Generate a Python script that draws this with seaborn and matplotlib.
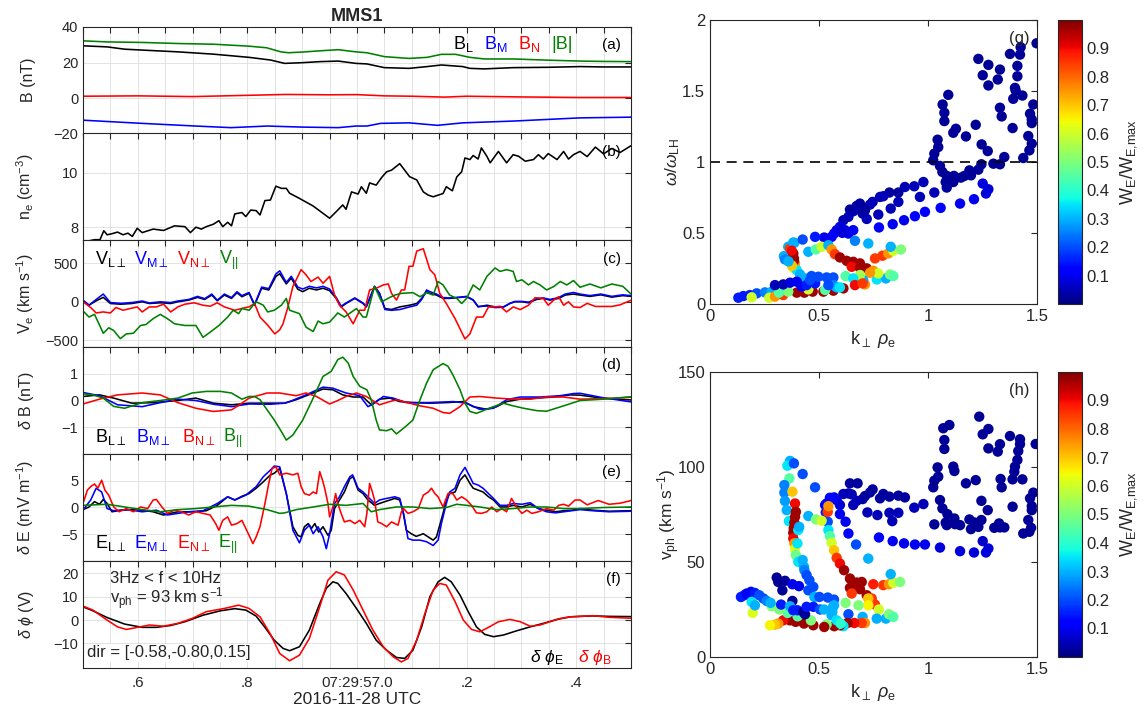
import numpy as np
import matplotlib
matplotlib.use("Agg")
import matplotlib.pyplot as plt
import matplotlib.ticker as mticker
from matplotlib.cm import ScalarMappable
from matplotlib.colors import Normalize
import seaborn as sns

# ---------------------------------------------------------------- data
# time in seconds after 07:29:56 UTC

# (a) B in LMN (nT)
t_bt = [0.5, 0.544, 0.608, 0.673, 0.738, 0.803, 0.835, 0.861, 0.875, 0.901, 0.933, 0.966, 0.998, 1.018,
        1.05, 1.095, 1.128, 1.154, 1.18, 1.206, 1.232, 1.285, 1.35, 1.407, 1.45, 1.5]
b_tot = [32.2, 31.6, 31.3, 30.7, 30.3, 29.2, 28.3, 26.0, 25.5, 25.9, 26.6, 27.2, 26.0, 25.5,
         23.3, 22.3, 22.9, 24.6, 24.6, 22.9, 22.0, 22.0, 21.3, 20.8, 20.6, 20.5]
t_bl = [0.5, 0.544, 0.576, 0.608, 0.673, 0.738, 0.803, 0.842, 0.868, 0.9, 0.933, 0.966, 0.998, 1.018,
        1.05, 1.095, 1.128, 1.154, 1.193, 1.206, 1.232, 1.285, 1.35, 1.407, 1.45, 1.5]
b_l = [29.4, 28.8, 27.5, 27.0, 26.0, 24.7, 22.9, 21.4, 19.5, 19.9, 20.5, 20.8, 19.5, 19.2,
       17.1, 16.7, 17.7, 18.6, 17.7, 16.7, 16.4, 17.1, 17.3, 17.7, 17.5, 17.5]
t_bn = [0.5, 0.6, 0.7, 0.8, 0.87, 0.95, 1.0, 1.05, 1.1, 1.16, 1.2, 1.3, 1.4, 1.5]
b_n = [1.0, 1.2, 0.8, 1.5, 2.0, 1.8, 1.9, 1.2, 1.0, 0.5, 1.0, 0.6, 0.3, 0.3]
t_bm = [0.5, 0.608, 0.706, 0.77, 0.836, 0.901, 0.966, 0.998, 1.018, 1.043, 1.095, 1.147, 1.193, 1.285,
        1.407, 1.5]
b_m = [-12.5, -14.3, -15.8, -16.7, -15.8, -16.4, -16.7, -15.8, -15.8, -14.3, -14.0, -15.4, -14.0, -13.0,
       -11.2, -10.8]

# (b) electron density (cm^-3)
t_ne = [0.5, 0.521, 0.531, 0.538, 0.544, 0.553, 0.563, 0.573, 0.582, 0.590, 0.599, 0.608, 0.628, 0.647,
        0.667, 0.686, 0.696, 0.706, 0.716, 0.725, 0.738, 0.748, 0.755, 0.764, 0.771, 0.777, 0.790, 0.797,
        0.806, 0.816, 0.823, 0.832, 0.842, 0.852, 0.862, 0.871, 0.877, 0.895, 0.92, 0.938, 0.95, 0.962,
        0.974, 0.98, 0.99, 1.002, 1.008, 1.017, 1.023, 1.035, 1.045, 1.054, 1.063, 1.078, 1.087, 1.096,
        1.109, 1.121, 1.13, 1.139, 1.148, 1.157, 1.163, 1.174, 1.182, 1.191, 1.197, 1.206, 1.212, 1.221,
        1.227, 1.237, 1.243, 1.258, 1.273, 1.285, 1.295, 1.307, 1.322, 1.331, 1.34, 1.349, 1.365, 1.377,
        1.386, 1.395, 1.407, 1.42, 1.435, 1.45, 1.465, 1.48, 1.5]
n_e = [7.45, 7.54, 7.54, 7.87, 7.72, 7.76, 7.82, 7.72, 7.78, 7.66, 7.96, 7.80, 7.93, 7.88,
       8.05, 8.02, 7.80, 8.0, 7.93, 8.02, 8.11, 8.24, 8.02, 8.18, 8.05, 8.49, 8.54, 8.39,
       8.63, 8.61, 8.45, 8.98, 9.0, 9.51, 9.43, 9.43, 9.25, 9.06, 8.78, 8.51, 8.33, 8.57,
       8.82, 8.66, 9.30, 9.22, 9.49, 9.25, 9.63, 9.55, 9.83, 10.04, 10.1, 10.34, 10.1, 9.86,
       9.74, 9.30, 9.18, 9.12, 9.18, 9.24, 9.49, 9.34, 9.85, 10.04, 10.55, 10.49, 10.64, 10.51,
       10.92, 10.61, 10.37, 10.79, 10.37, 10.67, 10.61, 10.43, 10.49, 10.67, 10.51, 10.71, 10.49, 10.79,
       10.51, 10.67, 10.79, 10.6, 10.95, 10.7, 10.9, 10.75, 11.0]

# (c) electron velocity (km/s)
t_vpar = [0.5, 0.511, 0.521, 0.537, 0.547, 0.556, 0.568, 0.579, 0.592, 0.605, 0.615, 0.628, 0.641, 0.654,
          0.667, 0.686, 0.706, 0.719, 0.732, 0.748, 0.764, 0.774, 0.784, 0.790, 0.803, 0.816, 0.829, 0.837,
          0.849, 0.862, 0.871, 0.877, 0.895, 0.907, 0.92, 0.929, 0.938, 0.95, 0.965, 0.977, 0.999, 1.011,
          1.017, 1.032, 1.045, 1.06, 1.069, 1.081, 1.102, 1.115, 1.127, 1.139, 1.148, 1.157, 1.169, 1.182,
          1.191, 1.2, 1.212, 1.224, 1.237, 1.252, 1.261, 1.273, 1.285, 1.291, 1.301, 1.313, 1.322, 1.334,
          1.346, 1.359, 1.371, 1.383, 1.395, 1.407, 1.425, 1.445, 1.465, 1.485, 1.5]
v_par = [-118, -197, -162, -406, -336, -371, -476, -415, -406, -306, -293, -218, -162, -218,
         -284, -306, -306, -459, -393, -306, -197, -109, -153, -87, -109, 0, -44, -131,
         -109, -44, 44, -109, -153, -328, -384, -249, -284, -262, -144, -197, -87, -197,
         -197, 197, 0, 57, 87, 109, 118, 66, 118, 87, 262, 218, 87, 44,
         -22, 44, 218, 153, 328, 437, 393, 415, 393, 262, 284, 218, 262, 218,
         153, 197, 262, 218, 275, 188, 230, 180, 230, 200, 100]
t_vlm = [0.5, 0.511, 0.524, 0.537, 0.55, 0.569, 0.589, 0.608, 0.621, 0.641, 0.66, 0.673, 0.693, 0.709,
         0.722, 0.735, 0.745, 0.758, 0.771, 0.781, 0.79, 0.803, 0.813, 0.826, 0.839, 0.852, 0.859, 0.871,
         0.88, 0.892, 0.901, 0.913, 0.926, 0.938, 0.95, 0.962, 0.971, 0.98, 0.996, 1.011, 1.017, 1.032,
         1.041, 1.051, 1.063, 1.078, 1.096, 1.109, 1.118, 1.127, 1.133, 1.145, 1.157, 1.169, 1.188, 1.2,
         1.212, 1.221, 1.237, 1.252, 1.267, 1.279, 1.288, 1.301, 1.313, 1.328, 1.34, 1.352, 1.368, 1.38,
         1.395, 1.407, 1.425, 1.445, 1.465, 1.485, 1.5]
v_l = [13, -44, 13, 57, -22, -31, -22, 0, -22, -13, -22, 0, 22, 57,
       31, 87, 13, 87, 44, 118, 66, 109, -44, 175, 153, 328, 362, 231,
       306, 162, 131, 175, 153, 175, 144, 44, -66, -22, 44, -22, -66, 197,
       109, -87, -100, -66, -44, -22, 44, 131, 109, 87, 44, 44, 57, 66,
       22, -66, -44, -66, -66, -22, 0, 0, -13, 31, 44, 22, 44, 87,
       100, 87, 70, 90, 60, 80, 70]
v_m = [22, -44, 30, 100, -10, -20, -10, 10, -15, 0, -10, 10, 30, 70,
       40, 100, 20, 100, 55, 130, 80, 120, -35, 190, 170, 360, 400, 250,
       330, 190, 165, 200, 180, 200, 165, 57, -57, -15, 50, -15, -60, 200,
       110, -100, -110, -100, -66, -44, 30, 153, 131, 100, 55, 50, 60, 70,
       25, -60, -55, -75, -70, -20, 5, 5, -5, 40, 50, 30, 55, 100,
       120, 100, 80, 100, 70, 90, 80]
t_vn = [0.5, 0.514, 0.524, 0.537, 0.55, 0.56, 0.573, 0.586, 0.599, 0.608, 0.621, 0.634, 0.647, 0.66,
        0.673, 0.686, 0.703, 0.719, 0.732, 0.745, 0.758, 0.777, 0.797, 0.803, 0.813, 0.823, 0.836, 0.85,
        0.859, 0.865, 0.874, 0.883, 0.898, 0.907, 0.916, 0.929, 0.938, 0.95, 0.959, 0.968, 0.98, 0.993,
        1.005, 1.014, 1.023, 1.035, 1.048, 1.057, 1.063, 1.072, 1.081, 1.087, 1.095, 1.102, 1.109, 1.121,
        1.133, 1.142, 1.151, 1.163, 1.179, 1.188, 1.197, 1.206, 1.218, 1.23, 1.24, 1.252, 1.261, 1.273,
        1.285, 1.298, 1.313, 1.325, 1.34, 1.349, 1.359, 1.368, 1.377, 1.386, 1.395, 1.407, 1.42, 1.435,
        1.45, 1.465, 1.48, 1.5]
v_n = [0, -74, -144, -131, -144, -74, -109, -87, -66, -131, -66, -66, -31, -131,
       -66, -31, -13, -44, -57, -13, -66, -109, -74, -66, -22, -197, -293, -415,
       -362, -284, -66, 197, 415, 349, 262, 319, 240, 328, 87, -44, -131, -284,
       -109, -109, 153, 175, 218, 231, 109, 22, 153, 153, 459, 459, 655, 686,
       415, 349, 109, -22, -218, -349, -480, -415, -197, -197, -66, -66, -57, -131,
       -66, -100, -44, 52, 44, -44, 22, 66, -44, 0, -66, -74, -20, -60,
       -60, -60, -40, 20]

# (d) delta B (nT)
t_dbpar = [0.5, 0.518, 0.537, 0.556, 0.576, 0.608, 0.641, 0.673, 0.699, 0.725, 0.751, 0.771, 0.79, 0.803,
           0.813, 0.823, 0.836, 0.849, 0.862, 0.871, 0.883, 0.901, 0.92, 0.938, 0.953, 0.965, 0.974, 0.984,
           0.993, 1.005, 1.018, 1.026, 1.035, 1.041, 1.054, 1.063, 1.072, 1.081, 1.09, 1.102, 1.115, 1.127,
           1.139, 1.157, 1.166, 1.175, 1.188, 1.197, 1.206, 1.218, 1.234, 1.249, 1.267, 1.285, 1.304, 1.328,
           1.346, 1.377, 1.407, 1.45, 1.5]
db_par = [0.25, 0.21, 0.09, -0.22, -0.29, -0.08, 0, 0.09, 0.28, 0.34, 0.34, 0.28, 0.05, 0.15,
          0.15, 0.03, -0.35, -0.73, -1.16, -1.48, -1.29, -0.73, 0.09, 0.9, 1.09, 1.53, 1.62, 1.4,
          0.9, 0.53, 0.4, 0.03, -0.73, -1.1, -1.13, -1.06, -1.25, -1.1, -0.95, -0.73, 0.03, 0.65,
          1.15, 1.38, 1.28, 0.96, 0.4, -0.1, -0.41, -0.48, -0.35, -0.23, -0.1, -0.2, -0.29, -0.38,
          -0.4, -0.2, 0.0, 0.05, 0.14]
t_dbl = [0.5, 0.53, 0.556, 0.589, 0.628, 0.673, 0.706, 0.738, 0.771, 0.803, 0.842, 0.868, 0.889, 0.92,
         0.938, 0.956, 0.974, 0.993, 1.011, 1.026, 1.041, 1.06, 1.078, 1.102, 1.133, 1.163, 1.194, 1.212,
         1.237, 1.255, 1.273, 1.298, 1.328, 1.359, 1.389, 1.407, 1.45, 1.5]
db_l = [0.15, 0.21, 0.09, -0.1, -0.08, 0, 0.09, -0.1, -0.16, -0.1, -0.1, -0.1, 0.03, 0.28,
        0.43, 0.4, 0.21, 0.13, 0.13, -0.16, 0.05, 0.09, -0.04, -0.08, -0.1, -0.08, -0.04, -0.23,
        -0.33, -0.23, -0.04, 0.05, 0.09, 0.13, 0.21, 0.2, 0.08, 0.02]
t_dbm = [0.5, 0.53, 0.563, 0.608, 0.641, 0.673, 0.706, 0.738, 0.771, 0.803, 0.842, 0.868, 0.877, 0.907,
         0.938, 0.956, 0.98, 1.005, 1.02, 1.032, 1.048, 1.066, 1.09, 1.133, 1.176, 1.2, 1.224, 1.249,
         1.273, 1.298, 1.334, 1.371, 1.395, 1.407, 1.45, 1.5]
db_m = [0.3, 0.18, -0.16, -0.23, -0.08, 0.05, 0, -0.14, -0.23, -0.13, -0.14, -0.1, -0.04, 0.21,
        0.5, 0.46, 0.28, 0.18, -0.23, -0.1, 0.15, 0.09, -0.08, -0.08, -0.04, -0.1, -0.33, -0.29,
        0.03, 0.13, 0.13, 0.18, 0.26, 0.27, 0.1, -0.05]
t_dbn = [0.5, 0.53, 0.563, 0.608, 0.641, 0.673, 0.706, 0.738, 0.771, 0.79, 0.803, 0.836, 0.859, 0.889,
         0.907, 0.926, 0.95, 0.965, 0.98, 0.999, 1.017, 1.041, 1.06, 1.072, 1.096, 1.115, 1.139, 1.157,
         1.169, 1.188, 1.206, 1.224, 1.255, 1.285, 1.316, 1.346, 1.377, 1.407, 1.45, 1.5]
db_n = [-0.13, 0.05, 0.21, 0.28, 0.21, -0.08, -0.29, -0.41, -0.35, -0.1, 0.09, 0.28, 0.28, 0.18,
        0.28, 0.15, -0.13, 0, 0.15, 0.28, 0.15, -0.16, -0.04, 0.03, -0.1, -0.2, -0.29, -0.45,
        -0.48, -0.23, 0.13, 0.15, 0.09, 0.05, 0.05, 0.13, 0.13, 0.05, 0.07, 0.12]

# (e) delta E (mV/m)
t_depar = [0.5, 0.544, 0.576, 0.608, 0.641, 0.673, 0.706, 0.738, 0.771, 0.803, 0.836, 0.859, 0.868, 0.889,
           0.92, 0.95, 0.98, 1.011, 1.026, 1.041, 1.072, 1.102, 1.133, 1.163, 1.182, 1.2, 1.224, 1.255,
           1.285, 1.316, 1.346, 1.377, 1.407, 1.45, 1.5]
de_par = [0.4, 0.6, 0.1, -0.4, -0.8, -0.4, -0.2, 0.1, 0.4, 0.25, -0.4, -1.1, -1.0, -0.4,
          0.1, 0.6, 0.4, 0.75, -0.8, -0.4, 0.1, 0.1, -0.2, 0, 0.6, 0.4, 0.1, -0.4,
          -0.2, 0.1, 0.1, -0.2, -0.2, 0.0, 0.1]
t_del = [0.5, 0.511, 0.521, 0.53, 0.537, 0.544, 0.553, 0.569, 0.589, 0.608, 0.628, 0.647, 0.66, 0.673,
         0.686, 0.706, 0.725, 0.745, 0.764, 0.777, 0.79, 0.803, 0.816, 0.829, 0.842, 0.849, 0.859, 0.871,
         0.883, 0.892, 0.898, 0.904, 0.911, 0.917, 0.923, 0.93, 0.938, 0.947, 0.953, 0.959, 0.968, 0.977,
         0.987, 0.993, 1.002, 1.011, 1.02, 1.032, 1.041, 1.051, 1.06, 1.069, 1.078, 1.084, 1.09, 1.099,
         1.108, 1.121, 1.13, 1.139, 1.145, 1.151, 1.157, 1.163, 1.169, 1.179, 1.188, 1.197, 1.206, 1.212,
         1.221, 1.23, 1.24, 1.249, 1.261, 1.273, 1.285, 1.301, 1.316, 1.331, 1.346, 1.362, 1.377, 1.392,
         1.407, 1.43, 1.46, 1.5]
de_l = [-0.4, 0.1, 1.1, 0.6, 1.5, 0.75, -0.8, -0.5, -0.4, -0.5, -0.8, -1.4, -1.1, -0.8,
        -0.8, -0.8, -0.6, 0.4, 2.0, 1.4, 2.1, 2.6, 3.6, 4.8, 6.1, 6.4, 7.3, 2.6,
        -3.6, -5.2, -5.5, -3.6, -3.0, -3.9, -3.0, -4.6, -3.6, -5.2, -4.25, -0.2, 1.4, 2.9,
        5.4, 5.75, 3.25, 2.6, 1.4, 0.4, 0.75, 1.1, 1.4, 1.7, 1.4, -0.8, -4.25, -4.9,
        -5.4, -4.9, -5.5, -6.1, -5.5, -3.3, -1.1, 1.4, 2.6, 2.9, 5.1, 6.1, 4.5, 3.6,
        3.25, 2.9, 2.0, 1.4, 0.1, 0.1, 0.4, 0.1, 0.6, -0.2, -0.5, -0.8, -0.6, -0.5,
        -0.2, -0.5, -0.7, -0.6]
t_dem = [0.5, 0.514, 0.524, 0.534, 0.544, 0.556, 0.582, 0.608, 0.634, 0.654, 0.673, 0.693, 0.719, 0.745,
         0.764, 0.777, 0.797, 0.816, 0.829, 0.842, 0.849, 0.859, 0.871, 0.883, 0.895, 0.904, 0.913, 0.92,
         0.929, 0.938, 0.944, 0.95, 0.959, 0.968, 0.977, 0.987, 0.992, 1.002, 1.011, 1.02, 1.032, 1.041,
         1.054, 1.069, 1.078, 1.085, 1.093, 1.102, 1.115, 1.127, 1.139, 1.148, 1.154, 1.163, 1.169, 1.179,
         1.188, 1.197, 1.206, 1.212, 1.221, 1.23, 1.24, 1.249, 1.261, 1.273, 1.285, 1.301, 1.316, 1.331,
         1.346, 1.362, 1.377, 1.392, 1.407, 1.43, 1.46, 1.5]
de_m = [-0.5, 1.4, 3.6, 2.9, -0.2, -0.6, -0.4, -0.8, -0.5, -1.4, -1.1, -0.8, -0.6, 0.75,
        2.0, 1.4, 2.3, 3.9, 5.75, 7.0, 7.75, 7.6, 2.6, -4.25, -6.6, -4.25, -3.3, -4.9,
        -3.6, -5.5, -7.7, -4.9, 0.75, 2.0, 3.9, 5.75, 6.1, 3.6, 2.9, 2.0, 0.75, 1.4,
        1.7, 2.0, 1.7, -1.1, -5.8, -6.1, -6.1, -6.4, -7.1, -6.1, -3.0, 0.75, 2.9, 3.6,
        6.1, 7.5, 5.75, 4.5, 4.2, 3.6, 2.6, 1.7, 0.4, 0.4, 0.75, 0.6, 0.9, -0.2,
        -0.8, -1.0, -0.8, -0.6, -0.4, -0.6, -0.8, -0.7]
t_den = [0.5, 0.508, 0.514, 0.521, 0.527, 0.534, 0.54, 0.547, 0.556, 0.566, 0.579, 0.592, 0.605, 0.618,
         0.628, 0.634, 0.644, 0.654, 0.667, 0.68, 0.693, 0.706, 0.719, 0.732, 0.742, 0.748, 0.755, 0.764,
         0.771, 0.781, 0.79, 0.797, 0.803, 0.81, 0.816, 0.823, 0.832, 0.839, 0.845, 0.852, 0.859, 0.871,
         0.883, 0.892, 0.898, 0.904, 0.913, 0.92, 0.926, 0.932, 0.937, 0.941, 0.947, 0.95, 0.956, 0.961,
         0.965, 0.971, 0.977, 0.987, 0.996, 1.005, 1.014, 1.018, 1.023, 1.028, 1.032, 1.038, 1.045, 1.054,
         1.063, 1.069, 1.075, 1.081, 1.085, 1.093, 1.102, 1.112, 1.121, 1.13, 1.136, 1.142, 1.148, 1.157,
         1.166, 1.175, 1.182, 1.191, 1.2, 1.209, 1.218, 1.227, 1.237, 1.246, 1.255, 1.264, 1.273, 1.282,
         1.291, 1.301, 1.31, 1.319, 1.331, 1.346, 1.359, 1.368, 1.377, 1.386, 1.398, 1.407, 1.42, 1.44,
         1.46, 1.48, 1.5]
de_n = [0.75, 3.25, 3.9, 4.4, 3.6, 5.1, 3.25, 2.3, 0.1, -0.8, -0.2, -0.8, 0.1, -0.2,
        1.4, 1.5, 0.1, -1.1, -0.5, -0.8, -1.4, -0.8, -1.1, -1.4, -3.0, -4.25, -2.4, -1.75,
        -3.3, -3.0, -2.4, -3.9, -5.2, -6.75, -5.5, -3.6, 0.75, 4.5, 7.3, 7.6, 6.1, 6.4,
        6.1, 6.4, 3.9, 2.6, 2.3, 2.9, 2.6, 6.7, 5.1, 3.6, 0.75, -1.75, 0.1, 2.6,
        0.75, -1.1, -2.7, -2.4, -3.0, -2.4, -3.6, -1.1, 4.5, 2.9, 1.4, -2.7, -3.0, -3.6,
        -2.7, -3.0, -3.3, -0.8, -0.2, -1.1, -0.8, -0.2, 2.3, 2.9, 3.6, 2.6, 2.0, 0.1,
        2.6, 2.6, 1.4, 2.0, 1.4, 0.4, -1.0, -1.1, -0.8, 0.1, -0.8, -0.2, -0.8, 1.7,
        0.1, -1.1, -0.5, -1.1, -0.8, -0.2, -0.5, 0.4, 0.6, 0.25, 1.4, 1.4, 0.5, 1.3,
        0.6, 0.8, 1.3]

# (f) potentials (V)
t_phe = [0.5, 0.518, 0.544, 0.576, 0.608, 0.634, 0.66, 0.686, 0.719, 0.751, 0.777, 0.797, 0.816, 0.832,
         0.849, 0.865, 0.877, 0.895, 0.913, 0.932, 0.944, 0.956, 0.965, 0.98, 0.999, 1.017, 1.035, 1.054,
         1.072, 1.087, 1.102, 1.118, 1.133, 1.148, 1.16, 1.172, 1.188, 1.203, 1.218, 1.233, 1.249, 1.267,
         1.291, 1.316, 1.34, 1.365, 1.389, 1.407, 1.43, 1.46, 1.5]
phi_e = [5.7, 4.0, 1.1, -1.7, -3.1, -3.1, -2.3, -0.7, 2.1, 4.0, 4.9, 4.3, 1.7, -3.1,
         -8.6, -12.1, -13.1, -11.4, -4.3, 7.1, 13.6, 16.4, 15.7, 11.4, 5.0, -1.4, -8.6, -12.9,
         -16.0, -16.4, -12.9, -2.9, 10.0, 16.4, 18.3, 16.4, 10.7, 3.6, -2.9, -6.1, -7.1, -6.4,
         -4.6, -2.9, -1.4, 0.3, 1.4, 1.6, 1.8, 1.6, 1.5]
t_phb = [0.5, 0.518, 0.544, 0.563, 0.579, 0.595, 0.621, 0.647, 0.673, 0.699, 0.725, 0.758, 0.784, 0.803,
         0.823, 0.842, 0.859, 0.877, 0.895, 0.913, 0.932, 0.947, 0.962, 0.977, 0.993, 1.011, 1.029, 1.048,
         1.066, 1.081, 1.093, 1.109, 1.124, 1.139, 1.151, 1.163, 1.179, 1.194, 1.209, 1.224, 1.24, 1.258,
         1.279, 1.298, 1.316, 1.334, 1.352, 1.371, 1.389, 1.407, 1.43, 1.46, 1.5]
phi_b = [6.0, 4.3, 0, -2.9, -4.0, -3.3, -2.1, -2.6, -1.4, 0.7, 3.6, 5.0, 6.4, 5.0,
         1.4, -6.0, -14.3, -17.4, -15.0, -7.9, 5.7, 17.1, 20.7, 19.3, 12.9, 4.3, -4.3, -11.4,
         -15.7, -17.9, -16.4, -8.6, 2.9, 12.9, 15.7, 15.0, 7.9, 0, -4.0, -5.0, -3.1, -0.7,
         0.3, -0.7, -2.6, -2.1, -0.7, 0.7, 1.4, 1.6, 1.9, 1.2, 0.8]

# (g) dispersion points: (k_perp rho_e, omega/omega_LH, W_E/W_E,max)
g_navy = [(1.498, 1.836, .02), (1.425, 1.808, .02), (1.376, 1.761, .02), (1.422, 1.756, .02), (1.231, 1.726, .02),
          (1.277, 1.684, .02), (1.330, 1.651, .02), (1.410, 1.677, .02), (1.410, 1.604, .02), (1.251, 1.611, .02),
          (1.320, 1.581, .02), (1.277, 1.539, .02), (1.399, 1.522, .02), (1.402, 1.504, .02), (1.433, 1.468, .02),
          (1.391, 1.445, .02), (1.093, 1.473, .02), (1.067, 1.405, .02), (1.483, 1.405, .02), (1.330, 1.382, .02),
          (1.075, 1.347, .02), (1.338, 1.321, .02), (1.468, 1.340, .02), (1.075, 1.288, .02), (1.476, 1.300, .02),
          (1.476, 1.274, .02), (1.219, 1.262, .02), (1.128, 1.234, .02), (1.116, 1.206, .02), (1.388, 1.239, .02),
          (1.174, 1.180, .02), (1.460, 1.183, .02), (1.044, 1.157, .02), (1.047, 1.105, .02), (1.476, 1.129, .02),
          (1.246, 1.124, .02), (1.465, 1.082, .02), (1.274, 1.077, .02), (1.029, 1.059, .02), (1.024, 1.012, .02),
          (1.350, 1.035, .02), (1.437, 1.028, .02), (1.330, 0.984, .02), (1.300, 0.988, .02), (1.245, 0.984, .02),
          (1.055, 0.972, .02), (1.231, 0.946, .02), (1.190, 0.941, .02), (1.066, 0.930, .02), (1.167, 0.902, .02),
          (1.119, 0.902, .02), (1.086, 0.902, .02), (1.151, 0.890, .02), (1.197, 0.906, .02), (1.116, 0.859, .02),
          (1.081, 0.859, .02), (1.029, 0.785, .05), (1.086, 0.820, .03), (1.251, 0.848, .08), (1.277, 0.808, .08),
          (1.266, 0.778, .08)]
g_band = [(0.979, 0.859, .05), (0.937, 0.829, .05), (0.894, 0.824, .05), (0.864, 0.785, .03), (0.823, 0.785, .03),
          (0.795, 0.759, .05), (0.780, 0.754, .05), (0.746, 0.719, .05), (0.734, 0.700, .05), (0.711, 0.660, .03),
          (0.700, 0.637, .03), (0.673, 0.691, .03), (0.657, 0.653, .05), (0.642, 0.665, .03), (0.635, 0.614, .05),
          (0.612, 0.590, .05), (0.596, 0.543, .08), (0.581, 0.520, .08), (0.569, 0.496, .10), (0.558, 0.473, .12),
          (0.535, 0.457, .12), (0.524, 0.468, .10), (0.619, 0.520, .08), (0.635, 0.496, .10), (0.665, 0.445, .25),
          (0.657, 0.520, .10), (0.607, 0.501, .08), (0.719, 0.599, .05), (0.772, 0.630, .05), (0.829, 0.672, .05),
          (0.864, 0.719, .05), (0.775, 0.539, .12), (0.838, 0.562, .10), (0.890, 0.590, .10), (0.940, 0.618, .12),
          (0.986, 0.649, .12), (1.058, 0.677, .12), (1.147, 0.707, .10), (1.211, 0.738, .10), (0.963, 0.754, .05),
          (0.688, 0.707, .03)]
g_arcs = [(0.387, 0.431, .30), (0.359, 0.403, .30), (0.339, 0.337, .30), (0.344, 0.314, .25), (0.367, 0.391, .85),
          (0.382, 0.356, .97), (0.385, 0.321, .97), (0.390, 0.286, .75), (0.382, 0.255, .60), (0.398, 0.239, .35),
          (0.413, 0.208, .30), (0.436, 0.180, .30), (0.466, 0.197, .20), (0.382, 0.433, .30), (0.425, 0.454, .20),
          (0.451, 0.368, .30), (0.482, 0.473, .15), (0.485, 0.384, .45), (0.512, 0.403, .60), (0.543, 0.414, .30),
          (0.375, 0.375, .90), (0.385, 0.305, .97), (0.376, 0.270, .70), (0.360, 0.300, .30),
          (0.558, 0.384, .75), (0.573, 0.351, .85), (0.596, 0.328, .97), (0.627, 0.304, .97), (0.657, 0.297, .97),
          (0.688, 0.286, .97), (0.650, 0.262, .90), (0.688, 0.255, .97), (0.719, 0.251, .97), (0.749, 0.234, .75),
          (0.757, 0.321, .85), (0.791, 0.340, .85), (0.818, 0.356, .75), (0.841, 0.375, .60), (0.876, 0.384, .50),
          (0.829, 0.403, .30), (0.726, 0.426, .30), (0.765, 0.173, .35), (0.807, 0.180, .30), (0.826, 0.208, .50),
          (0.841, 0.197, .45), (0.772, 0.215, .60), (0.734, 0.220, .75), (0.711, 0.138, .75), (0.703, 0.169, .30),
          (0.688, 0.204, .55), (0.622, 0.197, .45), (0.657, 0.180, .35)]
g_floor = [(0.130, 0.044, .15), (0.153, 0.056, .15), (0.183, 0.063, .15), (0.214, 0.075, .20), (0.252, 0.082, .25),
           (0.283, 0.087, .30), (0.321, 0.094, .30), (0.191, 0.047, .60), (0.272, 0.044, .60), (0.298, 0.052, .75),
           (0.336, 0.063, .85), (0.398, 0.080, .97), (0.433, 0.080, .97), (0.471, 0.087, .97), (0.520, 0.087, .97),
           (0.566, 0.094, .97), (0.612, 0.110, .97), (0.665, 0.133, .90), (0.700, 0.145, .85), (0.359, 0.087, .50),
           (0.317, 0.080, .45), (0.451, 0.103, .60), (0.528, 0.099, .45), (0.298, 0.133, .05), (0.336, 0.138, .05),
           (0.367, 0.150, .08), (0.398, 0.157, .10), (0.420, 0.122, .10), (0.443, 0.133, .15), (0.482, 0.145, .15),
           (0.459, 0.169, .20), (0.497, 0.192, .20), (0.535, 0.187, .20), (0.566, 0.187, .20), (0.566, 0.133, .25),
           (0.581, 0.117, .30), (0.596, 0.117, .35), (0.543, 0.133, .20)]

# (h) (k_perp rho_e, v_ph km/s, W_E/W_E,max)
h_navy = [(1.235, 126.5, .02), (1.070, 120.4, .02), (1.098, 122.1, .02), (1.277, 120.0, .02), (1.251, 117.2, .02),
          (1.376, 116.3, .02), (1.422, 114.6, .02), (1.422, 112.0, .02), (1.330, 112.0, .02), (1.494, 112.1, .02),
          (1.075, 114.2, .02), (1.075, 109.5, .02), (1.277, 109.8, .02), (1.320, 108.1, .02), (1.414, 108.4, .02),
          (1.410, 103.7, .02), (1.399, 100.2, .02), (1.116, 100.2, .02), (1.044, 99.8, .02), (1.121, 97.9, .02),
          (1.396, 97.5, .02), (1.047, 94.9, .02), (1.219, 93.1, .02), (1.388, 93.5, .02), (1.433, 93.5, .02),
          (1.029, 92.8, .02), (1.174, 91.4, .02), (1.333, 93.7, .02), (1.338, 89.3, .02), (1.024, 89.3, .02),
          (1.483, 86.5, .02), (1.468, 83.5, .02), (1.245, 82.2, .02), (1.055, 82.6, .02), (1.476, 79.4, .02),
          (1.388, 79.1, .02), (1.476, 77.3, .02), (1.066, 78.2, .02), (1.274, 77.3, .02), (1.089, 75.2, .02),
          (1.121, 72.9, .02), (1.460, 72.1, .02), (1.190, 72.4, .02), (1.081, 70.7, .02), (1.124, 69.9, .02),
          (1.213, 70.8, .02), (1.245, 72.1, .02), (1.231, 68.5, .02), (1.326, 70.3, .02), (1.147, 69.4, .02),
          (1.086, 69.4, .02), (1.197, 67.3, .02), (1.304, 68.0, .02), (1.330, 68.2, .02), (1.350, 68.2, .02),
          (1.437, 65.0, .02), (1.473, 68.0, .02), (1.465, 65.9, .02), (1.029, 69.8, .02),
          (1.251, 61.0, .06), (1.277, 57.1, .08), (1.266, 55.0, .08), (1.211, 55.0, .08), (1.147, 55.7, .08),
          (1.055, 57.6, .08), (0.986, 59.2, .10), (0.940, 59.2, .10), (0.890, 59.8, .10), (0.838, 61.0, .10),
          (0.775, 62.9, .12), (0.670, 59.2, .20), (0.726, 51.8, .30)]
h_band = [(0.979, 80.5, .05), (0.937, 78.6, .05), (0.894, 84.0, .03), (0.864, 75.9, .05), (0.864, 84.9, .03),
          (0.823, 84.4, .03), (0.836, 71.5, .05), (0.823, 75.9, .05), (0.795, 85.8, .03), (0.780, 83.5, .03),
          (0.768, 74.7, .05), (0.746, 88.2, .03), (0.734, 86.6, .03), (0.722, 76.1, .05), (0.711, 84.7, .03),
          (0.700, 83.1, .03), (0.677, 91.4, .03), (0.673, 82.2, .05), (0.657, 80.0, .05), (0.642, 91.4, .03),
          (0.635, 86.1, .05), (0.612, 85.8, .05), (0.622, 71.2, .10), (0.635, 65.0, .12), (0.650, 85.6, .05),
          (0.596, 80.0, .08), (0.596, 75.2, .10), (0.581, 82.6, .08), (0.569, 84.0, .10), (0.550, 83.8, .12),
          (0.535, 80.8, .12), (0.528, 80.0, .12), (0.531, 76.1, .15), (0.540, 71.2, .20)]
h_tracks = [(0.367, 103.2, .30), (0.355, 100.7, .35), (0.385, 101.9, .20), (0.425, 96.3, .20), (0.364, 94.0, .45),
            (0.482, 89.3, .20), (0.341, 90.5, .25), (0.341, 86.5, .25), (0.344, 82.1, .28), (0.352, 77.3, .30),
            (0.362, 71.5, .35), (0.378, 87.0, .70), (0.390, 80.8, .90), (0.394, 76.4, .97), (0.390, 73.8, .97),
            (0.387, 70.7, .97), (0.384, 67.7, .97), (0.382, 65.4, .97), (0.382, 62.4, .90), (0.387, 59.8, .75),
            (0.390, 56.9, .62), (0.394, 53.6, .48), (0.405, 66.8, .35), (0.409, 68.5, .30), (0.401, 59.8, .35),
            (0.405, 50.1, .35), (0.425, 51.0, .30), (0.431, 47.5, .30), (0.433, 45.7, .25), (0.443, 43.1, .20),
            (0.456, 40.4, .20), (0.451, 35.1, .20), (0.474, 36.9, .20), (0.479, 31.6, .30), (0.502, 31.6, .20),
            (0.540, 31.3, .20), (0.569, 30.2, .20), (0.569, 27.2, .30), (0.563, 26.0, .30), (0.561, 23.7, .30),
            (0.451, 74.2, .30), (0.486, 72.4, .50), (0.512, 71.7, .60), (0.540, 76.4, .85), (0.543, 79.4, .75),
            (0.543, 66.8, .35), (0.550, 63.6, .45), (0.558, 60.1, .60), (0.569, 56.2, .70), (0.581, 52.2, .85),
            (0.596, 49.2, .90), (0.615, 45.7, .97), (0.642, 41.3, .97), (0.657, 38.7, .97), (0.673, 39.2, .97),
            (0.696, 39.5, .97), (0.642, 36.4, .97), (0.688, 35.7, .97), (0.650, 33.4, .85), (0.719, 32.5, .97),
            (0.742, 30.8, .85), (0.757, 27.6, .85), (0.749, 38.3, .88), (0.795, 37.8, .85), (0.821, 38.3, .75),
            (0.841, 39.0, .60), (0.872, 39.5, .50), (0.829, 43.6, .30), (0.726, 30.8, .70), (0.726, 27.2, .65),
            (0.775, 25.0, .60), (0.765, 20.2, .30), (0.807, 20.2, .30), (0.821, 22.5, .50), (0.841, 21.1, .45),
            (0.700, 21.1, .30), (0.681, 27.2, .50), (0.622, 28.5, .50), (0.635, 22.5, .20)]
h_floor = [(0.711, 17.9, .75), (0.696, 17.9, .85), (0.662, 17.9, .90), (0.631, 17.9, .97), (0.612, 16.2, .35),
           (0.596, 16.7, .97), (0.589, 17.2, .45), (0.570, 16.2, .97), (0.535, 17.2, .50), (0.524, 15.8, .97),
           (0.474, 16.7, .97), (0.431, 17.6, .97), (0.393, 18.5, .97), (0.367, 19.3, .97), (0.336, 19.3, .90),
           (0.313, 17.6, .75), (0.298, 17.0, .70), (0.275, 16.7, .65), (0.356, 23.2, .45), (0.402, 21.4, .45),
           (0.463, 19.3, .50), (0.196, 23.2, .62), (0.283, 26.7, .50), (0.318, 25.0, .50),
           (0.142, 31.6, .15), (0.157, 32.5, .15), (0.168, 33.4, .12), (0.188, 34.3, .10), (0.206, 33.7, .15),
           (0.226, 32.5, .20), (0.245, 30.8, .20), (0.260, 29.5, .25), (0.278, 28.5, .30), (0.191, 29.0, .35),
           (0.206, 27.2, .30), (0.306, 41.8, .02), (0.313, 39.5, .02), (0.344, 40.1, .02), (0.332, 35.1, .02),
           (0.378, 38.3, .10), (0.408, 37.3, .10), (0.378, 29.5, .02), (0.326, 27.6, .15), (0.367, 26.7, .30),
           (0.382, 24.6, .15), (0.401, 24.6, .15), (0.428, 23.7, .02), (0.436, 22.5, .02), (0.443, 26.4, .15),
           (0.474, 26.4, .15), (0.505, 25.0, .20), (0.523, 25.0, .30), (0.558, 22.0, .30), (0.581, 19.3, .35),
           (0.599, 17.6, .40)]

lh_level = 1.0  # omega = omega_LH reference

GREEN = "#008000"
AXC = "#262626"
W_PX, H_PX = 1146, 719


def box(x0, y0, x1, y1):
    return [x0 / W_PX, 1 - y1 / H_PX, (x1 - x0) / W_PX, (y1 - y0) / H_PX]


def time_label(x, pos):
    tenths = x * 10
    if abs(tenths - round(tenths)) > 1e-6 or int(round(tenths)) % 2:
        return ""
    tenths = int(round(tenths))
    if tenths == 10:
        return "07:29:57.0"
    return "." + str(tenths % 10)


def draw(ax, t, v, color, lw=1.15):
    sns.lineplot(x=np.asarray(t), y=np.asarray(v), ax=ax, color=color, linewidth=lw,
                 estimator=None, sort=False, legend=False)


def style_axis(ax, fs=10.5):
    for s in ax.spines.values():
        s.set_color(AXC)
        s.set_linewidth(0.8)
    ax.tick_params(which="both", direction="in", top=True, right=True, length=4,
                   width=0.8, color=AXC, labelcolor=AXC, labelsize=fs)


def label_row(ax, items, y, fs=13):
    for x, txt, col in items:
        ax.text(x, y, txt, color=col, fontsize=fs, transform=ax.transAxes, va="baseline", ha="left")


def main():
    sns.set_theme(style="white")
    plt.rcParams["font.family"] = ["Liberation Sans", "DejaVu Sans"]
    plt.rcParams["mathtext.fontset"] = "custom"
    plt.rcParams["mathtext.rm"] = "Liberation Sans"
    plt.rcParams["mathtext.it"] = "Liberation Sans:italic"
    plt.rcParams["mathtext.bf"] = "Liberation Sans:bold"

    fig = plt.figure(figsize=(11.46, 7.19), dpi=100)

    edges = [27, 133.5, 240.5, 347, 454, 561, 668]
    axes = [fig.add_axes(box(83, edges[i], 631, edges[i + 1])) for i in range(6)]
    ax_a, ax_b, ax_c, ax_d, ax_e, ax_f = axes

    draw(ax_a, t_bl, b_l, "black")
    draw(ax_a, t_bm, b_m, "blue")
    draw(ax_a, t_bn, b_n, "red")
    draw(ax_a, t_bt, b_tot, GREEN)

    draw(ax_b, t_ne, n_e, "black")

    draw(ax_c, t_vlm, v_l, "black")
    draw(ax_c, t_vlm, v_m, "blue")
    draw(ax_c, t_vn, v_n, "red")
    draw(ax_c, t_vpar, v_par, GREEN)

    draw(ax_d, t_dbl, db_l, "black")
    draw(ax_d, t_dbm, db_m, "blue")
    draw(ax_d, t_dbn, db_n, "red")
    draw(ax_d, t_dbpar, db_par, GREEN)

    draw(ax_e, t_del, de_l, "black")
    draw(ax_e, t_dem, de_m, "blue")
    draw(ax_e, t_den, de_n, "red")
    draw(ax_e, t_depar, de_par, GREEN)

    draw(ax_f, t_phe, phi_e, "black")
    draw(ax_f, t_phb, phi_b, "red")

    ylims = [(-20, 40), (7.51, 11.45), (-584, 792), (-2, 2), (-10, 10), (-20.5, 25.3)]
    yticks = [[-20, 0, 20, 40], [8, 10], [-500, 0, 500], [-1, 0, 1], [-5, 0, 5], [-10, 0, 10, 20]]
    ylabels = ["B (nT)", r"n$_\mathrm{e}$ (cm$^{-3}$)", r"V$_\mathrm{e}$ (km s$^{-1}$)",
               r"$\delta$ B (nT)", r"$\delta$ E (mV m$^{-1}$)", r"$\delta$ $\phi$ (V)"]
    tags = ["(a)", "(b)", "(c)", "(d)", "(e)", "(f)"]
    for ax, yl, yt, lab, tag in zip(axes, ylims, yticks, ylabels, tags):
        ax.set_xlim(0.5, 1.5)
        ax.set_ylim(*yl)
        ax.set_yticks(yt)
        ax.xaxis.set_major_locator(mticker.MultipleLocator(0.05))
        ax.xaxis.set_major_formatter(mticker.FuncFormatter(time_label))
        ax.grid(True, color="#dedede", linewidth=0.6)
        ax.set_axisbelow(True)
        style_axis(ax)
        ax.set_ylabel(lab, fontsize=11.5, color=AXC)
        ax.yaxis.set_label_coords(-0.085, 0.5)
        ax.set_xlabel("")
        ax.text(0.982, 0.83, tag, transform=ax.transAxes, ha="right", va="center", fontsize=11, color="black")
        if ax is not ax_f:
            ax.tick_params(labelbottom=False)
    ax_f.tick_params(axis="x", labelsize=11, pad=6)
    ax_f.set_xlabel("2016-11-28 UTC", fontsize=12.5, color=AXC, labelpad=1)
    ax_a.set_title("MMS1", fontweight="bold", fontsize=13, pad=4)

    label_row(ax_a, [(0.676, r"B$_\mathrm{L}$", "black"), (0.731, r"B$_\mathrm{M}$", "blue"),
                     (0.793, r"B$_\mathrm{N}$", "red"), (0.855, "|B|", GREEN)], 0.79)
    label_row(ax_c, [(0.022, r"V$_{\mathrm{L}\perp}$", "black"), (0.093, r"V$_{\mathrm{M}\perp}$", "blue"),
                     (0.171, r"V$_{\mathrm{N}\perp}$", "red"), (0.249, r"V$_{||}$", GREEN)], 0.78)
    label_row(ax_d, [(0.022, r"B$_{\mathrm{L}\perp}$", "black"), (0.096, r"B$_{\mathrm{M}\perp}$", "blue"),
                     (0.180, r"B$_{\mathrm{N}\perp}$", "red"), (0.255, r"B$_{||}$", GREEN)], 0.115)
    label_row(ax_e, [(0.022, r"E$_{\mathrm{L}\perp}$", "black"), (0.093, r"E$_{\mathrm{M}\perp}$", "blue"),
                     (0.171, r"E$_{\mathrm{N}\perp}$", "red"), (0.247, r"E$_{||}$", GREEN)], 0.12)

    ax_f.text(0.05, 0.79, "3Hz < f < 10Hz", transform=ax_f.transAxes, fontsize=12)
    ax_f.text(0.05, 0.60, r"v$_\mathrm{ph}$ = 93 km s$^{-1}$", transform=ax_f.transAxes, fontsize=12)
    ax_f.text(0.008, 0.10, "dir = [-0.58,-0.80,0.15]", transform=ax_f.transAxes, fontsize=12,
              bbox=dict(facecolor="white", edgecolor="none", pad=1))
    label_row(ax_f, [(0.816, r"$\delta$ $\phi_\mathrm{E}$", "black"),
                     (0.903, r"$\delta$ $\phi_\mathrm{B}$", "red")], 0.06, fs=12.5)

    # ---- right column
    norm = Normalize(0, 1)
    cmap = plt.get_cmap("jet")
    ax_g = fig.add_axes(box(710, 20, 1037, 304))
    ax_h = fig.add_axes(box(710, 372, 1037, 657))
    cax_g = fig.add_axes(box(1058, 20, 1082, 304))
    cax_h = fig.add_axes(box(1058, 372, 1082, 657))

    g_pts = g_navy + g_band + g_arcs + g_floor
    h_pts = h_navy + h_band + h_tracks + h_floor
    for ax, pts in ((ax_g, g_pts), (ax_h, h_pts)):
        k, y, w = (np.array(c) for c in zip(*pts))
        sns.scatterplot(x=k, y=y, hue=w, palette=cmap, hue_norm=norm, s=56, linewidth=0,
                        legend=False, ax=ax)
    ax_g.axhline(lh_level, color="black", linestyle=(0, (6, 4)), linewidth=1.2)

    ax_g.set_ylim(0, 2)
    ax_g.set_yticks([0, 0.5, 1, 1.5, 2])
    ax_g.set_yticklabels(["0", "0.5", "1", "1.5", "2"])
    ax_h.set_ylim(0, 150)
    ax_h.set_yticks([0, 50, 100, 150])
    ax_g.set_ylabel(r"$\omega/\omega_\mathrm{LH}$", fontsize=12.5, color=AXC)
    ax_h.set_ylabel(r"v$_\mathrm{ph}$ (km s$^{-1}$)", fontsize=12.5, color=AXC)
    for ax, tag in ((ax_g, "(g)"), (ax_h, "(h)")):
        ax.set_xlim(0, 1.5)
        ax.set_xticks([0, 0.5, 1, 1.5])
        ax.set_xticklabels(["0", "0.5", "1", "1.5"])
        style_axis(ax, fs=12)
        ax.set_xlabel(r"k$_\perp$ $\rho_\mathrm{e}$", fontsize=13, color=AXC, labelpad=4)
        ax.yaxis.set_label_coords(-0.085, 0.5)
        ax.text(0.945, 0.935, tag, transform=ax.transAxes, ha="center", va="center", fontsize=12)

    for cax in (cax_g, cax_h):
        cb = fig.colorbar(ScalarMappable(norm=norm, cmap=cmap), cax=cax)
        cb.set_ticks([0.1, 0.2, 0.3, 0.4, 0.5, 0.6, 0.7, 0.8, 0.9])
        cb.outline.set_edgecolor(AXC)
        cb.outline.set_linewidth(0.8)
        cax.tick_params(direction="in", length=4, width=0.8, color=AXC, labelcolor=AXC, labelsize=12)
        cb.set_label(r"W$_\mathrm{E}$/W$_\mathrm{E{,}max}$", fontsize=13, color=AXC, labelpad=6)

    fig.savefig("out.png", dpi=100)


if __name__ == "__main__":
    main()
